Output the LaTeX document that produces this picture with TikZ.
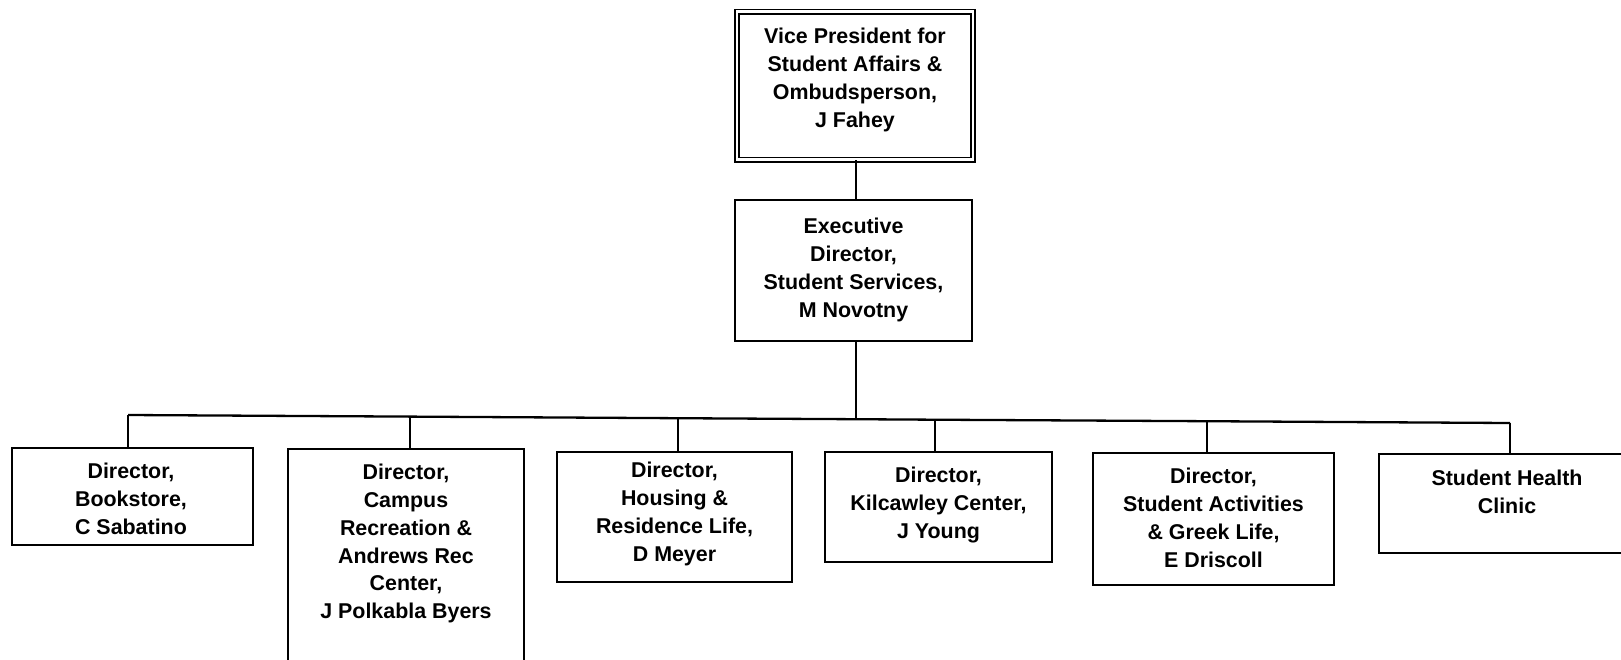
\documentclass[tikz,border=0pt]{standalone}
\usepackage{fontspec}
\setmainfont{Liberation Sans}
\begin{document}
\begin{tikzpicture}[x=1pt,y=-1pt,
  box/.style={draw=black, line width=2.6pt, inner sep=0pt, rectangle},
  dbox/.style={draw=black, double=white, double distance=2.6pt, line width=1.7pt, inner sep=0pt, rectangle},
  txt/.style={anchor=north, inner sep=0pt, align=center, font=\fontsize{21.4}{27.8}\selectfont\bfseries},
  conn/.style={draw=black, line width=2.3pt}]
\useasboundingbox (0,0) rectangle (1621,659);
\fill[white] (0,0) rectangle (1621,659);
\begin{scope}
\clip (0,0) rectangle (1621,659);
% boxes
\node[dbox, minimum width=236pt, minimum height=148pt] (vp) at (855,85.5) {};
\node[box, minimum width=237pt, minimum height=141pt] (ex) at (853.5,270.5) {};
\node[box, minimum width=241pt, minimum height=97pt] (n1) at (132.5,496.5) {};
\node[box, minimum width=236pt, minimum height=241pt] (n2) at (406,569.5) {};
\node[box, minimum width=235pt, minimum height=130pt] (n3) at (674.5,517) {};
\node[box, minimum width=227pt, minimum height=110pt] (n4) at (938.5,507) {};
\node[box, minimum width=241pt, minimum height=132pt] (n5) at (1213.5,519) {};
\node[box, minimum width=256pt, minimum height=99pt] (n6) at (1507,503.5) {};
% texts
\node[txt] (vpt) at (855,28) {Vice President for\\Student Affairs \&\\Ombudsperson,\\J Fahey};
\node[txt] (ext) at (853.5,218) {Executive\\Director,\\Student Services,\\M Novotny};
\node[txt] (t1) at (131,463) {Director,\\Bookstore,\\C Sabatino};
\node[txt] (t2) at (406,464) {Director,\\Campus\\Recreation \&\\Andrews Rec\\Center,\\J Polkabla Byers};
\node[txt] (t3) at (674.5,462) {Director,\\Housing \&\\Residence Life,\\D Meyer};
\node[txt] (t4) at (938.5,467) {Director,\\Kilcawley Center,\\J Young};
\node[txt] (t5) at (1213.5,468) {Director,\\Student Activities\\\& Greek Life,\\E Driscoll};
\node[txt] (t6) at (1507,470) {Student Health\\Clinic};
% bar coordinates
\coordinate (b1) at (128,415);
\coordinate (b2) at (410,416.6);
\coordinate (b3) at (678,418.2);
\coordinate (bx) at (856,419.2);
\coordinate (b4) at (935,419.7);
\coordinate (b5) at (1207,421.2);
\coordinate (b6) at (1510,423);
% connectors
\draw[conn] (vp.south -| bx) -- (ex.north -| bx);
\draw[conn] (ex.south -| bx) -- (bx);
\draw[conn] (b1) -- (b2) -- (b3) -- (bx) -- (b4) -- (b5) -- (b6);
\draw[conn] (b1) -- (n1.north -| b1);
\draw[conn] (b2) -- (n2.north -| b2);
\draw[conn] (b3) -- (n3.north -| b3);
\draw[conn] (b4) -- (n4.north -| b4);
\draw[conn] (b5) -- (n5.north -| b5);
\draw[conn] (b6) -- (n6.north -| b6);
\end{scope}
\end{tikzpicture}
\end{document}
